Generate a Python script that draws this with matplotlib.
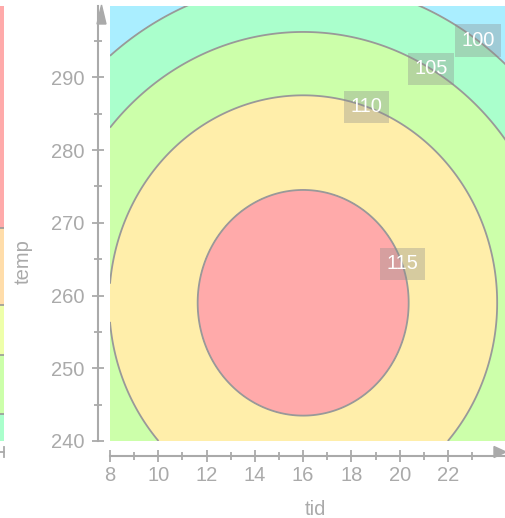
import numpy as np
import matplotlib
matplotlib.use('Agg')
import matplotlib.pyplot as plt

plt.rcParams['font.family'] = ['Liberation Sans', 'DejaVu Sans']

# surface: a round hill centred near tid=16, temp=259
center_tid = 16.0
center_temp = 259.0
peak = 117.1
curvature = 0.11
temp_scale = 3.55

levels = [80, 100, 105, 110, 115, 130]
fill_colors = ['#aaeeff', '#aaffcc', '#ccffaa', '#ffeeaa', '#ffaaaa']
line_levels = [100, 105, 110, 115]
label_pos = [(23.2, 294.9), (21.3, 291.2), (18.6, 285.8), (20.3, 264.6)]

xticks = [8, 10, 12, 14, 16, 18, 20, 22]
yticks = [240, 250, 260, 270, 280, 290]

# bands of the neighbouring chart peeking in at the left edge
strip_edges = [240, 243.7, 251.8, 258.7, 269.3, 300]
strip_colors = ['#aaffcc', '#ccffaa', '#eeffaa', '#ffddaa', '#ffaaaa']

grey = '#aaaaaa'

tid = np.linspace(8, 24.4, 300)
temp = np.linspace(240, 300, 300)
T, P = np.meshgrid(tid, temp)
Z = peak - curvature * ((T - center_tid) ** 2 + ((P - center_temp) / temp_scale) ** 2)

fig = plt.figure(figsize=(5.06, 5.18), dpi=100)
ax = fig.add_axes([110 / 506, 1 - 441 / 518, 396 / 506, 435 / 518])

ax.contourf(T, P, Z, levels=levels, colors=fill_colors)
cs = ax.contour(T, P, Z, levels=line_levels, colors='#999999', linewidths=1.3)
labels = ax.clabel(cs, fmt='%d', inline=False, manual=label_pos, fontsize=14.5, colors='white')
for t in labels:
    t.set_rotation(0)
    t.set_bbox(dict(boxstyle='square,pad=0.33', facecolor='#8c8c8c', alpha=0.35, edgecolor='none'))

ax.set_xlim(8, 24.4)
ax.set_ylim(240, 299.8)

for s in ['top', 'right']:
    ax.spines[s].set_visible(False)
ax.spines['left'].set_position(('outward', 8.5))
ax.spines['bottom'].set_position(('outward', 11))
for s in ['left', 'bottom']:
    ax.spines[s].set_color(grey)
    ax.spines[s].set_linewidth(1.5)

ax.set_xticks(xticks)
ax.set_yticks(yticks)
ax.set_xticks(np.arange(9, 24, 2), minor=True)
ax.set_yticks(np.arange(245, 300, 10), minor=True)
ax.tick_params(which='major', direction='inout', length=8.5, width=1.3, color=grey,
               labelcolor=grey, labelsize=14.5)
ax.tick_params(which='minor', direction='inout', length=5.5, width=1.3, color=grey)
ax.tick_params(axis='y', pad=5.5)
ax.tick_params(axis='x', pad=3)

ax.set_xlabel('tid', color=grey, fontsize=14.5)
ax.set_ylabel('temp', color=grey, fontsize=14.5)
ax.xaxis.set_label_coords(0.52, -0.135)
ax.yaxis.set_label_coords(-0.194, 0.4115)

# axis arrows
fig.add_artist(plt.Polygon([[506 / 506, 1 - 452 / 518], [494 / 506, 1 - 446.5 / 518],
                            [494 / 506, 1 - 457.5 / 518]], closed=True, color=grey,
                           transform=fig.transFigure))
fig.add_artist(plt.Polygon([[101.5 / 506, 1 - 5 / 518], [97 / 506, 1 - 24 / 518],
                            [106 / 506, 1 - 24 / 518]], closed=True, color=grey,
                           transform=fig.transFigure))

# neighbouring chart strip
sx = fig.add_axes([0, 1 - 441 / 518, 4 / 506, 435 / 518])
for i in range(len(strip_colors)):
    sx.axhspan(strip_edges[i], strip_edges[i + 1], color=strip_colors[i], lw=0)
for e in strip_edges[1:-1]:
    sx.axhline(e, color='#999999', lw=1.2)
sx.set_ylim(240, 299.8)
sx.axis('off')
fig.add_artist(plt.Line2D([0, 4 / 506], [1 - 452 / 518, 1 - 452 / 518],
                          color=grey, lw=1.3, transform=fig.transFigure))
fig.add_artist(plt.Line2D([4 / 506, 4 / 506], [1 - 447 / 518, 1 - 457 / 518],
                          color=grey, lw=1.3, transform=fig.transFigure))

fig.savefig('out.png', dpi=100)
